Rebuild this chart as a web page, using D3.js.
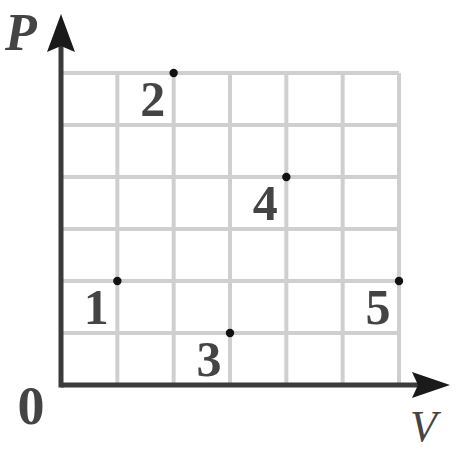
<!DOCTYPE html>
<html><head><meta charset="utf-8">
<script src="https://cdn.jsdelivr.net/npm/d3@7"></script>
<style>html,body{margin:0;padding:0;background:#fff;}svg{display:block;}</style>
</head><body>
<script>
const pointIds = ["1","2","3","4","5"];
const volumes = [1, 2, 3, 4, 6];
const pressures = [2, 6, 1, 4, 2];
const gridTicks = [0,1,2,3,4,5,6];
const axisLabels = {x: "V", y: "P", origin: "0"};

const W = 457, H = 452;
const svg = d3.select("body").append("svg").attr("width", W).attr("height", H);
const x = d3.scaleLinear().domain([0, 6]).range([61, 399]);
const y = d3.scaleLinear().domain([0, 6]).range([385, 73]);

// grid
const g = svg.append("g").attr("stroke", "#cfcfcf").attr("stroke-width", 4);
g.selectAll("line.v").data(gridTicks.slice(1)).join("line")
  .attr("x1", d => x(d)).attr("x2", d => x(d)).attr("y1", y(0)).attr("y2", y(6));
g.selectAll("line.h").data(gridTicks.slice(1)).join("line")
  .attr("y1", d => y(d)).attr("y2", d => y(d)).attr("x1", x(0)).attr("x2", x(6));

// axes
const axisColor = "#3a3a3a";
svg.append("line").attr("x1", x(0)).attr("x2", 420).attr("y1", y(0)).attr("y2", y(0))
  .attr("stroke", axisColor).attr("stroke-width", 5);
svg.append("line").attr("x1", x(0)).attr("x2", x(0)).attr("y1", y(0) + 2.5).attr("y2", 40)
  .attr("stroke", axisColor).attr("stroke-width", 5);
// arrowheads
svg.append("path").attr("d", `M450,${y(0)} L412,${y(0)-13} L418,${y(0)} L412,${y(0)+13} Z`).attr("fill", "#1a1a1a");
svg.append("path").attr("d", `M${x(0)},14 L${x(0)-14},52 L${x(0)},46 L${x(0)+14},52 Z`).attr("fill", "#1a1a1a");

// points
const data = pointIds.map((id, i) => ({id, v: volumes[i], p: pressures[i]}));
svg.selectAll("circle.pt").data(data).join("circle")
  .attr("cx", d => x(d.v)).attr("cy", d => y(d.p)).attr("r", 4.2).attr("fill", "#111");

const labelFont = "'Liberation Serif','Times New Roman',serif";
svg.selectAll("text.lbl").data(data).join("text")
  .attr("x", d => x(d.v) - 21).attr("y", d => y(d.p) + 43)
  .attr("text-anchor", "middle")
  .attr("font-family", labelFont).attr("font-size", 50).attr("font-weight", "bold")
  .attr("fill", "#444").text(d => d.id);

svg.append("text").attr("x", 31).attr("y", 424).attr("text-anchor", "middle")
  .attr("font-family", labelFont).attr("font-size", 54).attr("font-weight", "bold")
  .attr("fill", "#444").text(axisLabels.origin);
svg.append("text").attr("x", 5).attr("y", 50)
  .attr("font-family", labelFont).attr("font-size", 52).attr("font-style", "italic").attr("font-weight", "bold")
  .attr("fill", "#444").text(axisLabels.y);
svg.append("text").attr("x", 410).attr("y", 441)
  .attr("font-family", labelFont).attr("font-size", 44).attr("font-style", "italic")
  .attr("fill", "#444").text(axisLabels.x);
</script>
</body></html>
